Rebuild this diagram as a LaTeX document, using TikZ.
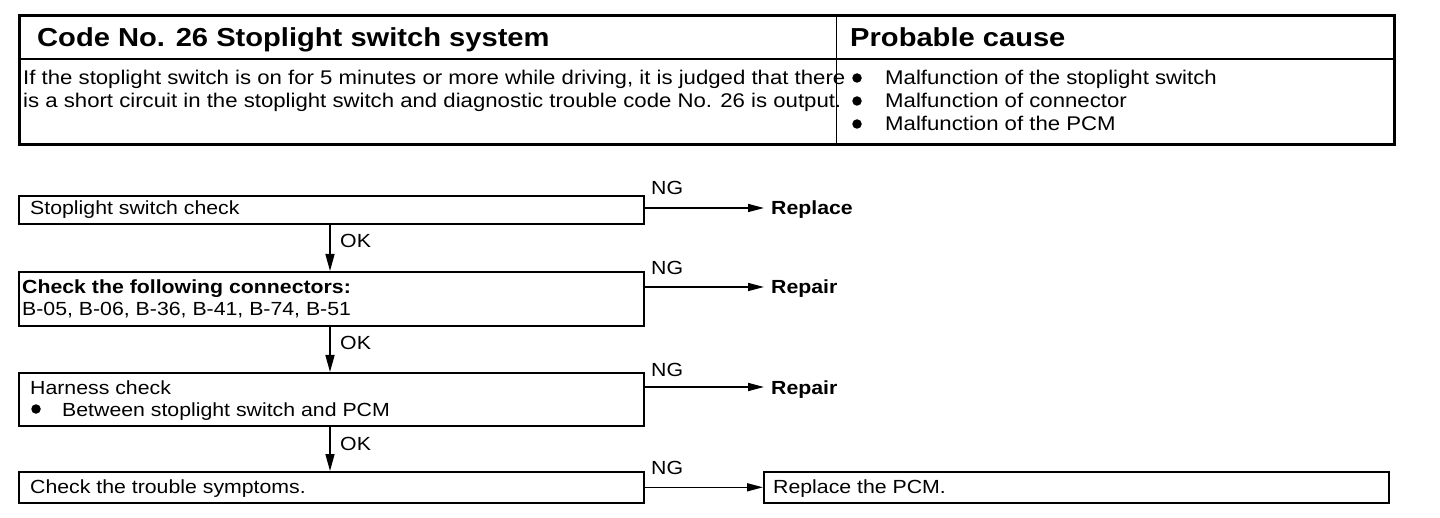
\documentclass[tikz,border=0pt]{standalone}
\usepackage{fontspec}
\setmainfont{Liberation Sans}[FakeStretch=1.12]
\usetikzlibrary{arrows.meta}
\begin{document}
\begin{tikzpicture}[x=1pt,y=-1pt,
  txt/.style={anchor=base west,inner sep=0pt,font=\fontsize{19}{23}\selectfont},
  dtxt/.style={txt,font=\fontsize{19.8}{23}\selectfont},
  btxt/.style={txt,font=\fontsize{19}{23}\selectfont\bfseries},
  hdr/.style={anchor=base west,inner sep=0pt,font=\fontsize{26}{30}\selectfont\bfseries},
  box/.style={draw,line width=1.6pt,anchor=north west,inner sep=0pt},
  dot/.style={circle,fill,inner sep=0pt,minimum size=9.5pt},
  varrow/.style={line width=1.6pt,-{Triangle[length=17pt,width=9pt]}},
  harrow/.style={line width=1.6pt,-{Triangle[length=16pt,width=8pt]}}]
\useasboundingbox (0,0) rectangle (1440,518);
% table
\draw[line width=3pt] (19,16) rectangle (1394,145);
\draw[line width=1.2pt] (19,59) -- (1394,59);
\draw[line width=1pt] (836,16) -- (836,145);
\node[hdr] (h1) at (37,47) {Code No. 26 Stoplight switch system};
\node[hdr] (h2) at (850,47) {Probable cause};
\node[dtxt] (d1) at (23,84.5) {If the stoplight switch is on for 5 minutes or more while driving, it is judged that there};
\node[dtxt] (d2) at (23,107.5) {is a short circuit in the stoplight switch and diagnostic trouble code No. 26 is output.};
\node[dot] (b1) at (857,78) {};
\node[dot] (b2) at (857,101) {};
\node[dot] (b3) at (857,124) {};
\node[dtxt] (c1) at (885,84.5) {Malfunction of the stoplight switch};
\node[dtxt] (c2) at (885,107.5) {Malfunction of connector};
\node[dtxt] (c3) at (885,130.5) {Malfunction of the PCM};
% flow boxes
\node[box,minimum width=625pt,minimum height=28pt] (s1) at (18,195) {};
\node[box,minimum width=625pt,minimum height=54pt] (s2) at (18,271) {};
\node[box,minimum width=625pt,minimum height=53pt] (s3) at (18,372) {};
\node[box,minimum width=625pt,minimum height=31pt] (s4) at (18,471) {};
\node[box,minimum width=625pt,minimum height=31pt] (s5) at (763,471) {};
\node[txt] (t1) at (30,215) {Stoplight switch check};
\node[btxt] (t2a) at (22,294) {Check the following connectors:};
\node[txt] (t2b) at (22,316) {B-05, B-06, B-36, B-41, B-74, B-51};
\node[txt] (t3a) at (30,394) {Harness check};
\node[dot] (t3d) at (36,409) {};
\node[txt] (t3b) at (62,416) {Between stoplight switch and PCM};
\node[txt] (t4) at (30,493) {Check the trouble symptoms.};
\node[txt] (t5) at (773,493) {Replace the PCM.};
% results
\node[btxt] (r1) at (771,215) {Replace};
\node[btxt] (r2) at (771,294) {Repair};
\node[btxt] (r3) at (771,394) {Repair};
% NG / OK labels
\node[txt] (ng1) at (651,195) {NG};
\node[txt] (ng2) at (651,275) {NG};
\node[txt] (ng3) at (651,377) {NG};
\node[txt] (ng4) at (651,474) {NG};
\node[txt] (ok1) at (340,248) {OK};
\node[txt] (ok2) at (340,350) {OK};
\node[txt] (ok3) at (340,450) {OK};
% connectors
\coordinate (vx) at (330,0);
\draw[varrow] (s1.south -| vx) -- (s2.north -| vx);
\draw[varrow] (s2.south -| vx) -- (s3.north -| vx);
\draw[varrow] (s3.south -| vx) -- (s4.north -| vx);
\coordinate (e1) at (643,208);
\coordinate (e2) at (643,287);
\coordinate (e3) at (643,387);
\draw[harrow] (e1) -- ([xshift=-7pt]e1 -| r1.west);
\draw[harrow] (e2) -- ([xshift=-7pt]e2 -| r2.west);
\draw[harrow] (e3) -- ([xshift=-7pt]e3 -| r3.west);
\draw[harrow] (s4.east) -- (s5.west);
\end{tikzpicture}
\end{document}
